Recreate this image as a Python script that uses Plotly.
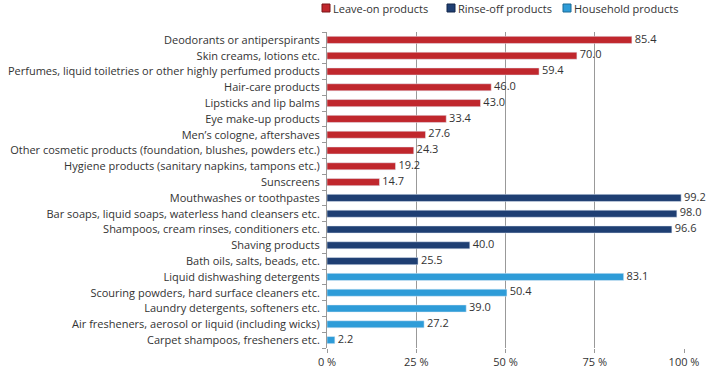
import plotly.graph_objects as go

leave_cats = ["Deodorants or antiperspirants", "Skin creams, lotions etc.",
              "Perfumes, liquid toiletries or other highly perfumed products", "Hair-care products",
              "Lipsticks and lip balms", "Eye make-up products", "Men’s cologne, aftershaves",
              "Other cosmetic products (foundation, blushes, powders etc.)",
              "Hygiene products (sanitary napkins, tampons etc.)", "Sunscreens"]
leave_vals = [85.4, 70.0, 59.4, 46.0, 43.0, 33.4, 27.6, 24.3, 19.2, 14.7]

rinse_cats = ["Mouthwashes or toothpastes", "Bar soaps, liquid soaps, waterless hand cleansers etc.",
              "Shampoos, cream rinses, conditioners etc.", "Shaving products", "Bath oils, salts, beads, etc."]
rinse_vals = [99.2, 98.0, 96.6, 40.0, 25.5]

house_cats = ["Liquid dishwashing detergents", "Scouring powders, hard surface cleaners etc.",
              "Laundry detergents, softeners etc.", "Air fresheners, aerosol or liquid (including wicks)",
              "Carpet shampoos, fresheners etc."]
house_vals = [83.1, 50.4, 39.0, 27.2, 2.2]

group_names = ["Leave-on products", "Rinse-off products", "Household products"]
group_colors = ["#C0272D", "#1F3F73", "#2E9CD8"]
group_borders = ["#7A1418", "#12264A", "#1B6A96"]

x_ticks = [0, 25, 50, 75, 100]
x_tick_labels = ["0 %", "25 %", "50 %", "75 %", "100 %"]

all_cats = leave_cats + rinse_cats + house_cats

W, H = 709, 370
ML, MR, MT, MB = 327, 25, 32, 22
PW, PH = W - ML - MR, H - MT - MB
font = "Open Sans"
fig = go.Figure()
for name, cats, vals, col in zip(group_names, [leave_cats, rinse_cats, house_cats],
                                 [leave_vals, rinse_vals, house_vals], group_colors):
    fig.add_trace(go.Bar(y=cats, x=vals, orientation="h", name=name, marker_color=col,
                         width=0.45, showlegend=False))
    fig.add_trace(go.Scatter(y=cats, x=vals, mode="text", text=[f" {v:.1f}" for v in vals],
                             textposition="middle right", showlegend=False, hoverinfo="skip",
                             textfont=dict(size=11, color="#333333", family=font), cliponaxis=False))

# custom legend (marker squares + text) positioned in pixel terms
legend_x = [322, 447, 563]
legend_y = 8
shapes = []
annotations = []
for lx, name, col, bcol in zip(legend_x, group_names, group_colors, group_borders):
    shapes.append(dict(type="rect", xref="paper", yref="paper",
                       x0=(lx - ML) / PW, x1=(lx + 8 - ML) / PW,
                       y0=(H - MB - (legend_y + 4)) / PH, y1=(H - MB - (legend_y - 4)) / PH,
                       fillcolor=col, line=dict(color=bcol, width=1)))
    annotations.append(dict(xref="paper", yref="paper", x=(lx + 9 - ML) / PW,
                            y=(H - MB - legend_y) / PH, text=name, showarrow=False,
                            xanchor="left", yanchor="middle",
                            font=dict(size=11, color="#333333", family=font)))

fig.update_layout(
    width=W, height=H,
    margin=dict(l=ML, r=MR, t=MT, b=MB, autoexpand=False),
    plot_bgcolor="white", paper_bgcolor="white",
    font=dict(family=font, size=11, color="#333333"),
    barmode="overlay",
    showlegend=False,
    shapes=shapes, annotations=annotations,
    xaxis=dict(range=[0, 100], tickvals=x_ticks, ticktext=x_tick_labels, showgrid=True,
               gridcolor="#999999", gridwidth=1, zeroline=False, showline=False,
               ticks="outside", ticklen=4, tickcolor="#999999", automargin=False),
    yaxis=dict(categoryorder="array", categoryarray=all_cats[::-1], autorange=False,
               range=[-0.5, len(all_cats) - 0.5], automargin=False,
               showline=True, linecolor="#999999", linewidth=1, ticks="outside",
               tickson="boundaries", ticklen=4, tickcolor="#999999", showgrid=False,
               ticklabelstandoff=4),
)
fig.write_html("out.html", post_script="document.body.style.margin='0';",
               config={"displayModeBar": False})
